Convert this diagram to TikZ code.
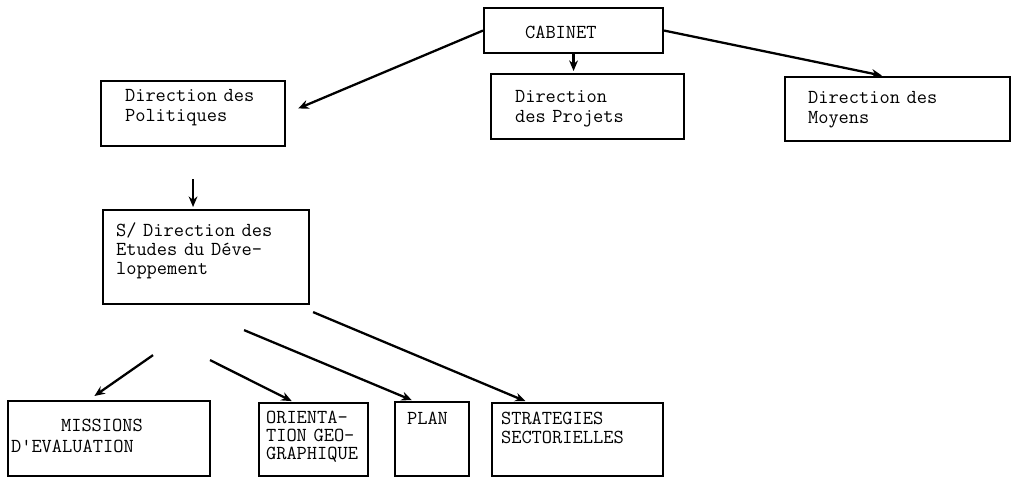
\documentclass[tikz,border=0pt]{standalone}
\usepackage{tikz}
\usetikzlibrary{positioning,calc,arrows.meta}
\newlength{\dpx}
\setlength{\dpx}{0.02cm}
\tikzset{
  unit/.style={draw=black,line width=1.2pt,anchor=north west,inner ysep=0pt,
    align=left,font=\fontsize{11.3}{11.4}\selectfont\ttfamily},
  link/.style={line width=1.3pt,-{Stealth[length=6pt,width=5pt]},shorten >=2\dpx},
}

\begin{document}
\begin{tikzpicture}[x=\dpx,y=-\dpx]
  \useasboundingbox (0,0) rectangle (1017,477);

  % top level
  \node[unit,inner xsep=41\dpx,text width=97\dpx,text height=30\dpx,text depth=15\dpx]
    (cabinet) at (483,7) {CABINET};
  \node[unit,inner xsep=24\dpx,text width=136\dpx,text height=20\dpx,text depth=45\dpx]
    (polit) at (100,80) {Direction des\\Politiques};
  \node[unit,inner xsep=24\dpx,text width=145\dpx,text height=28\dpx,text depth=37\dpx]
    (proj) at (490,73) {Direction\\des Projets};
  \node[unit,inner xsep=23\dpx,text width=179\dpx,text height=26\dpx,text depth=38\dpx]
    (moyens) at (784,76) {Direction des\\Moyens};

  \node[unit,inner xsep=13\dpx,text width=180\dpx,text height=26\dpx,text depth=68\dpx,
    font=\fontsize{11.3}{10.8}\selectfont\ttfamily]
    (sdir) at (102,209) {S/ Direction des\\Etudes du D\'eve-\\loppement};

  % bottom row
  \node[unit,inner xsep=3\dpx,text width=196\dpx,text height=30\dpx,text depth=45\dpx,
    font=\fontsize{11.3}{12}\selectfont\ttfamily]
    (missions) at (7,400) {\hspace*{50\dpx}MISSIONS\\D\textquotesingle EVALUATION};
  \node[unit,inner xsep=7\dpx,text width=95\dpx,text height=20\dpx,text depth=53\dpx,
    font=\fontsize{11.3}{10.4}\selectfont\ttfamily]
    (orient) at (258,402) {ORIENTA-\\TION GEO-\\GRAPHIQUE};
  \node[unit,inner xsep=12\dpx,text width=50\dpx,text height=22\dpx,text depth=52\dpx]
    (plan) at (394,401) {PLAN};
  \node[unit,inner xsep=9\dpx,text width=153\dpx,text height=21\dpx,text depth=52\dpx,
    font=\fontsize{11.3}{10.8}\selectfont\ttfamily]
    (strat) at (491,402) {STRATEGIES\\SECTORIELLES};

  % free tails under the sub-direction
  \coordinate (tmis) at ([shift={(-53,50)}]sdir.south);
  \coordinate (tori) at ([shift={(4,55)}]sdir.south);
  \coordinate (tplan) at ([shift={(38,25)}]sdir.south);
  \coordinate (tstrat) at ([shift={(3,7)}]sdir.south east);

  \draw[link,shorten >=13\dpx] (cabinet.west) -- (polit.east);
  \draw[link] (cabinet.south) -- (cabinet.south |- proj.north);
  \draw[link] (cabinet.east) -- ($(moyens.north west)!0.44!(moyens.north east)$);
  \draw[link,shorten <=32\dpx] (polit.south) -- (polit.south |- sdir.north);

  \draw[link,shorten >=7\dpx] (tmis) -- ($(missions.north west)!0.40!(missions.north east)$);
  \draw[link] (tori) -- ($(orient.north west)!0.32!(orient.north east)$);
  \draw[link] (tplan) -- ($(plan.north west)!0.26!(plan.north east)$);
  \draw[link] (tstrat) -- ($(strat.north west)!0.21!(strat.north east)$);
\end{tikzpicture}
\end{document}
